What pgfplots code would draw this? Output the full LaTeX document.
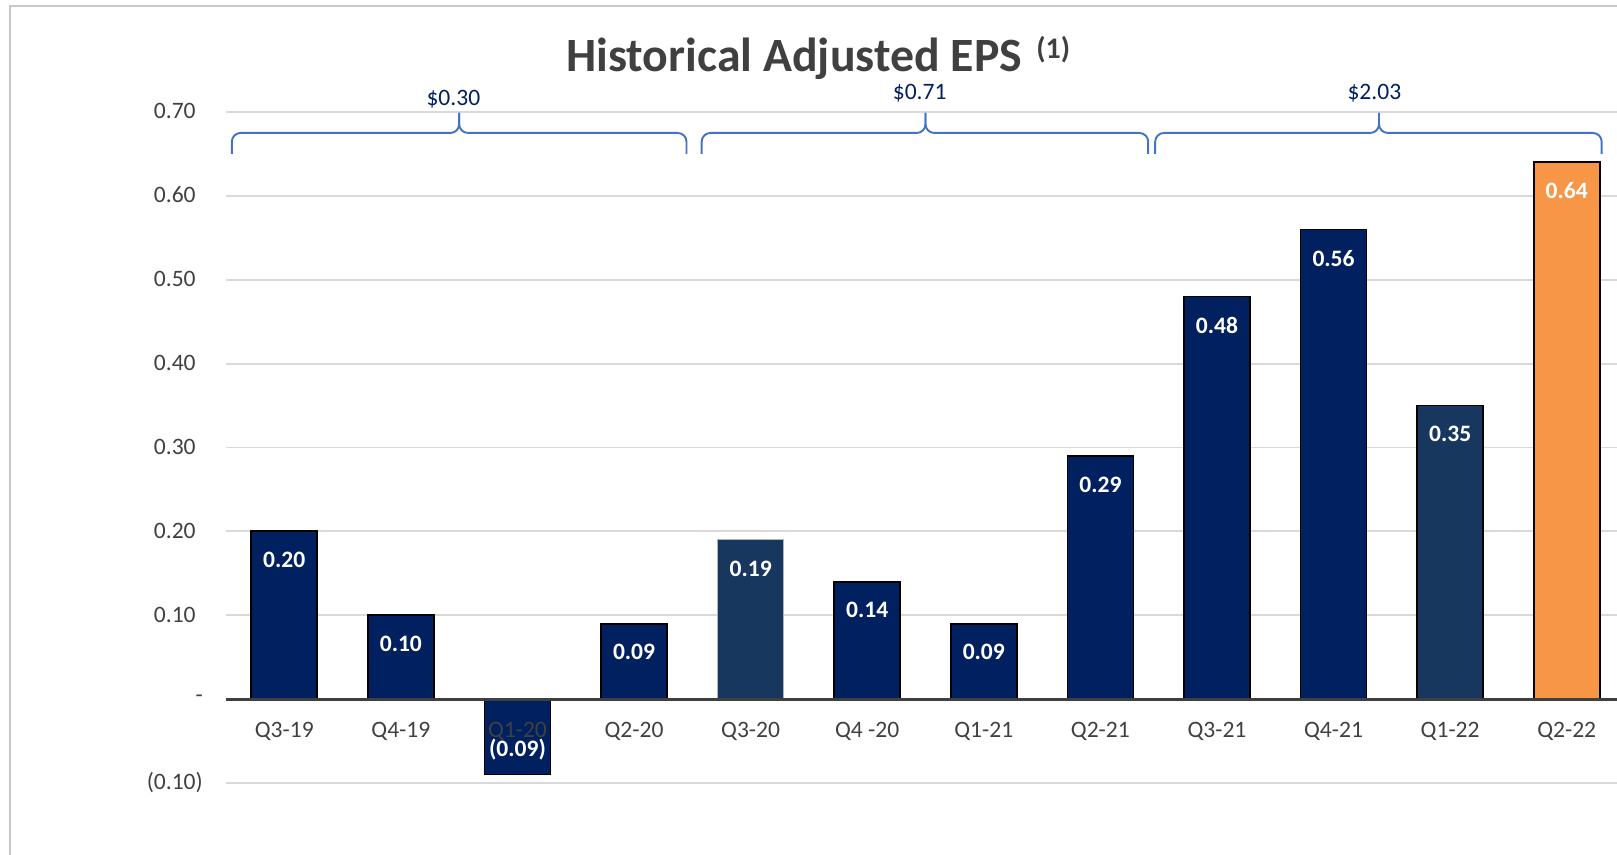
\documentclass[border=0pt]{standalone}
\usepackage{pgfplots}
\pgfplotsset{compat=1.18}
\usepackage{pgfplotstable}
\usepackage{fontspec}
\setmainfont{Carlito}

\definecolor{navy}{HTML}{002060}
\definecolor{slate}{HTML}{17375E}
\definecolor{orng}{HTML}{F79646}
\definecolor{txtgray}{HTML}{404040}
\definecolor{gridgray}{HTML}{D9D9D9}
\definecolor{bracecol}{HTML}{4472C4}
\definecolor{framegray}{HTML}{C8C8C8}
\definecolor{lightedge}{HTML}{A9B4C4}

% quarterly adjusted EPS
\pgfplotstableread{
x y lbl
0 0.20 0.20
1 0.10 0.10
2 -0.09 (0.09)
3 0.09 0.09
5 0.14 0.14
6 0.09 0.09
7 0.29 0.29
8 0.48 0.48
9 0.56 0.56
}\navybars
\pgfplotstableread{
x y lbl
4 0.19 0.19
}\slateA
\pgfplotstableread{
x y lbl
10 0.35 0.35
}\slateB
\pgfplotstableread{
x y lbl
11 0.64 0.64
}\orangebar

\newcommand{\ebrace}[3]{%
  \draw[bracecol, line width=1.1pt, rounded corners=5pt]
    (axis cs:#1,0.650) -- (axis cs:#1,0.675) -- (axis cs:#2,0.675) -- (axis cs:#2,0.699);
  \draw[bracecol, line width=1.1pt, rounded corners=5pt]
    (axis cs:#3,0.650) -- (axis cs:#3,0.675) -- (axis cs:#2,0.675) -- (axis cs:#2,0.699);
}

\begin{document}
\begin{tikzpicture}
% frame
\draw[framegray, line width=1.4pt] (0.2cm,0) -- (0.2cm,16.98cm) -- (32.5cm,16.98cm);

% title
\node[anchor=base west, text=txtgray, inner sep=0pt,
      font=\bfseries\fontsize{27.2}{32}\selectfont] at (11.32cm,15.66cm) {Historical Adjusted EPS};
\node[anchor=base west, text=txtgray, inner sep=0pt,
      font=\bfseries\fontsize{17}{20}\selectfont] at (20.72cm,15.92cm) {(1)};

\begin{axis}[
    at={(4.52cm,1.44cm)}, anchor=south west,
    scale only axis, width=27.98cm, height=13.42cm,
    xmin=-0.5, xmax=11.5, ymin=-0.1, ymax=0.7,
    ybar, bar width=1.32cm, bar shift=0pt,
    axis line style={draw=none}, major tick length=0pt,
    xtick={0,...,11},
    xticklabels={Q3-19,Q4-19,,Q2-20,Q3-20,Q4 -20,Q1-21,Q2-21,Q3-21,Q4-21,Q1-22,Q2-22},
    ytick={-0.1,0.1,0.2,0.3,0.4,0.5,0.6,0.7},
    yticklabels={(0.10),0.10\phantom{)},0.20\phantom{)},0.30\phantom{)},0.40\phantom{)},0.50\phantom{)},0.60\phantom{)},0.70\phantom{)}},
    extra y ticks={0}, extra y tick labels={-\hspace{8.2pt}},
    extra y tick style={ymajorgrids=false},
    ymajorgrids, grid style={gridgray, line width=1.1pt},
    tick label style={font=\fontsize{13.4}{16}\selectfont, text=txtgray},
    yticklabel style={anchor=east, inner sep=0pt, xshift=-13pt},
    xticklabel style={anchor=center, yshift=29.6pt},
    clip=false,
    nodes near coords, point meta=explicit symbolic,
    visualization depends on={\thisrow{y} \as \rawy},
    every node near coord/.append style={font=\bfseries\fontsize{13.4}{16}\selectfont,
        text=white, anchor=center, yshift={ifthenelse(\rawy>0,-16.3,14.5)}},
]
\addplot[fill=navy, draw=black, line width=1pt] table[x=x, y=y, meta=lbl] {\navybars};
% Q1-20 label sits over its negative bar, as in the original
\node[text=txtgray, font=\fontsize{13.4}{16}\selectfont] at (axis cs:2,-0.1) [yshift=29.6pt] {Q1-20};
\addplot[fill=slate, draw=lightedge, line width=0.8pt] table[x=x, y=y, meta=lbl] {\slateA};
\addplot[fill=slate, draw=black, line width=1pt] table[x=x, y=y, meta=lbl] {\slateB};
\addplot[fill=orng, draw=black, line width=1pt] table[x=x, y=y, meta=lbl] {\orangebar};

\draw[txtgray, line width=1.7pt] (axis cs:-0.5,0) -- (axis cs:11.5,0);

\ebrace{-0.45}{1.50}{3.45}
\ebrace{3.58}{5.50}{7.41}
\ebrace{7.47}{9.39}{11.30}
\node[text=navy, font=\fontsize{13.4}{16}\selectfont] at (axis cs:1.45,0.7150) {\$0.30};
\node[text=navy, font=\fontsize{13.4}{16}\selectfont] at (axis cs:5.45,0.7220) {\$0.71};
\node[text=navy, font=\fontsize{13.4}{16}\selectfont] at (axis cs:9.35,0.7225) {\$2.03};
\end{axis}
\pgfresetboundingbox
\useasboundingbox (0,0) rectangle (32.34cm,17.1cm);
\end{tikzpicture}
\end{document}
